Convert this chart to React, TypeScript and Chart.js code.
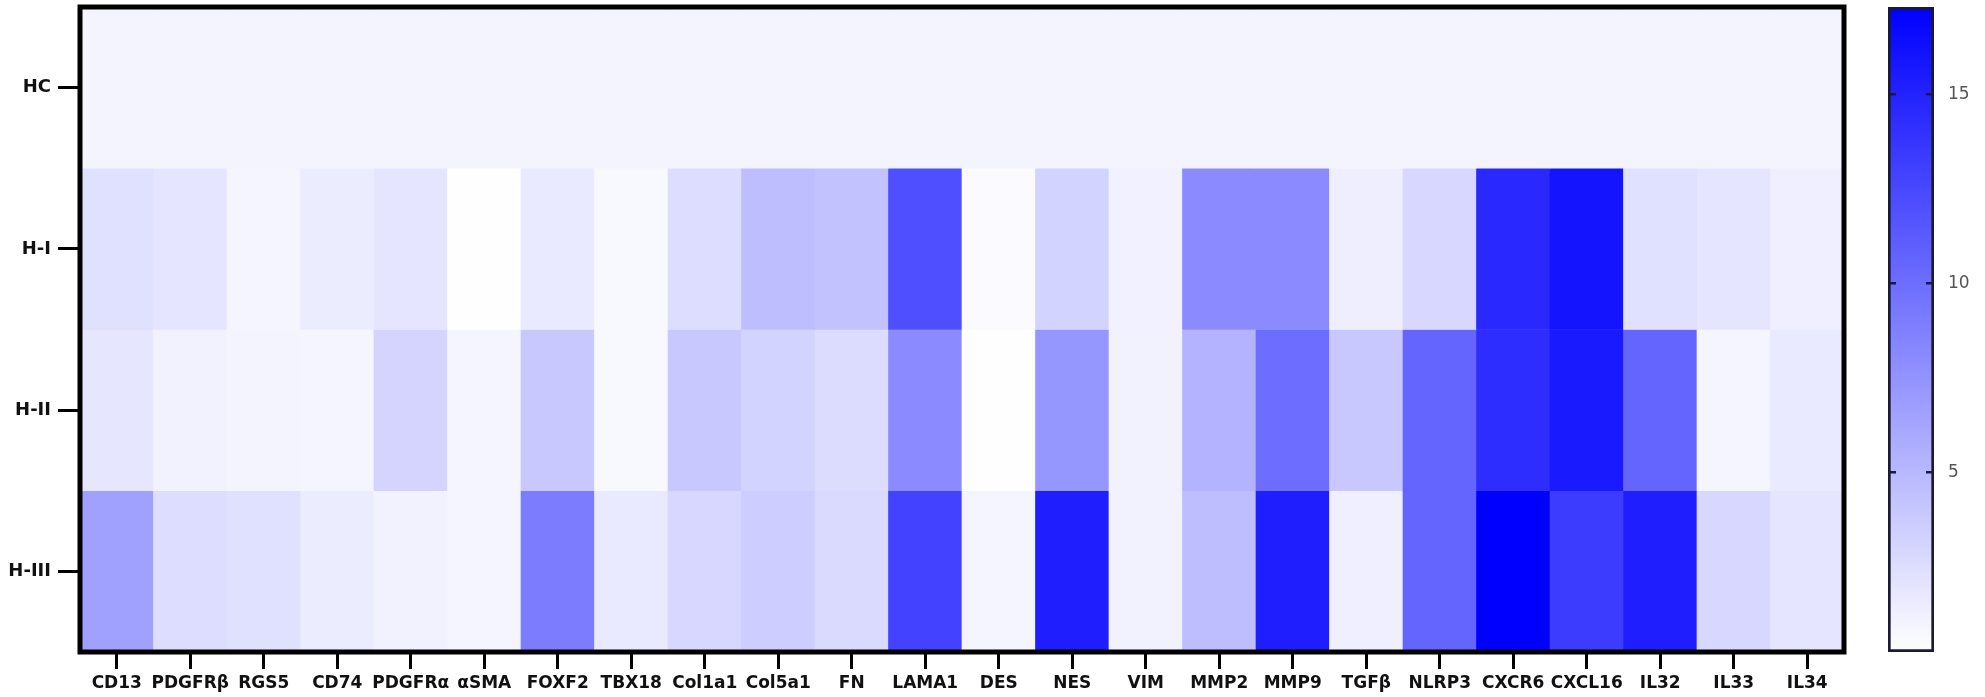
import React, { useEffect, useRef } from 'react';
import { Chart, registerables } from 'chart.js';

Chart.register(...registerables);

// ---------- data ----------
const genes = [
  'CD13', 'PDGFRβ', 'RGS5', 'CD74', 'PDGFRα', 'αSMA', 'FOXF2', 'TBX18',
  'Col1a1', 'Col5a1', 'FN', 'LAMA1', 'DES', 'NES', 'VIM', 'MMP2', 'MMP9',
  'TGFβ', 'NLRP3', 'CXCR6', 'CXCL16', 'IL32', 'IL33', 'IL34',
];
const groups = ['HC', 'H-I', 'H-II', 'H-III'];

const hcValues = [1, 1, 1, 1, 1, 1, 1, 1, 1, 1, 1, 1, 1, 1, 1, 1, 1, 1, 1, 1, 1, 1, 1, 1];
const h1Values = [2.3, 2.0, 0.9, 1.5, 2.0, 0.3, 1.7, 0.7, 2.5, 4.6, 4.3, 12.0, 0.6, 3.2, 1.2, 8.0, 8.0, 1.4, 2.9, 14.6, 16.0, 2.3, 2.0, 1.3];
const h2Values = [1.9, 1.1, 1.0, 0.9, 3.1, 0.9, 3.9, 0.7, 3.9, 3.2, 2.6, 8.0, 0.3, 7.3, 1.1, 5.3, 10.0, 3.9, 10.6, 14.3, 15.6, 10.6, 0.9, 1.7];
const h3Values = [6.6, 2.5, 2.3, 1.5, 1.1, 0.9, 9.0, 1.7, 2.9, 3.6, 2.7, 12.9, 0.9, 15.3, 1.1, 4.6, 15.3, 1.3, 10.6, 17.3, 13.3, 15.3, 2.9, 2.0];

const colorbarTicks = [5, 10, 15];
const scaleMin = 0.24;
const scaleMax = 17.31;

// ---------- helpers ----------
function colorFor(v: number): string {
  let f = (v - scaleMin) / (scaleMax - scaleMin);
  f = Math.max(0, Math.min(1, f));
  const c = Math.round(255 * (1 - f));
  return `rgb(${c},${c},255)`;
}

const FONT = '"DejaVu Sans", "Liberation Sans", sans-serif';

const framePlugin = {
  id: 'frame',
  afterDatasetsDraw(chart: any) {
    const { ctx, chartArea } = chart;
    ctx.save();
    ctx.strokeStyle = '#000';
    ctx.lineWidth = 5;
    ctx.strokeRect(chartArea.left, chartArea.top, chartArea.right - chartArea.left, chartArea.bottom - chartArea.top);
    ctx.restore();
  },
};

const colorbarTickPlugin = {
  id: 'cbticks',
  afterDatasetsDraw(chart: any) {
    const { ctx, chartArea } = chart;
    const y = chart.scales.y;
    ctx.save();
    ctx.strokeStyle = '#1a1a40';
    ctx.lineWidth = 2.5;
    colorbarTicks.forEach((t) => {
      const py = y.getPixelForValue(t);
      ctx.beginPath();
      ctx.moveTo(chartArea.left, py);
      ctx.lineTo(chartArea.left + 8, py);
      ctx.moveTo(chartArea.right - 8, py);
      ctx.lineTo(chartArea.right, py);
      ctx.stroke();
    });
    ctx.restore();
  },
};

export default function App() {
  const mainRef = useRef<HTMLCanvasElement>(null);
  const barRef = useRef<HTMLCanvasElement>(null);

  useEffect(() => {
    const rows = [hcValues, h1Values, h2Values, h3Values];
    const main = new Chart(mainRef.current as HTMLCanvasElement, {
      type: 'bar',
      data: {
        labels: genes,
        datasets: rows.map((vals, r) => ({
          label: groups[r],
          data: vals.map(() => [r, r + 1]),
          backgroundColor: vals.map(colorFor),
          borderWidth: 0,
          barPercentage: 1,
          categoryPercentage: 1,
          grouped: false,
        })) as any,
      },
      options: {
        animation: false,
        responsive: true,
        maintainAspectRatio: false,
        layout: { padding: { top: 7, right: 16, left: 0, bottom: 0 } },
        plugins: { legend: { display: false }, tooltip: { enabled: false } },
        scales: {
          x: {
            type: 'category',
            offset: true,
            grid: {
              offset: false,
              drawOnChartArea: false,
              drawTicks: true,
              tickLength: 17,
              lineWidth: 3,
              color: '#000',
            },
            border: { display: false },
            ticks: {
              autoSkip: false,
              maxRotation: 0,
              minRotation: 0,
              padding: 4,
              color: '#111',
              font: { family: FONT, size: 17, weight: 'bold' },
            },
            afterFit: (s: any) => {
              s.height = 45;
              s.paddingLeft = 0;
              s.paddingRight = 0;
            },
          },
          y: {
            type: 'linear',
            min: 0,
            max: 4,
            reverse: true,
            afterBuildTicks: (s: any) => {
              s.ticks = groups.map((_, i) => ({ value: i + 0.5 }));
            },
            ticks: {
              callback: (_v: any, i: number) => groups[i],
              padding: 7,
              color: '#111',
              font: { family: FONT, size: 18, weight: 'bold' },
            },
            grid: {
              drawOnChartArea: false,
              tickLength: 22,
              lineWidth: 3,
              color: '#000',
            },
            border: { display: false },
            afterFit: (s: any) => {
              s.width = 80;
              s.paddingTop = 0;
              s.paddingBottom = 0;
            },
          },
        },
      } as any,
      plugins: [framePlugin],
    });

    const bar = new Chart(barRef.current as HTMLCanvasElement, {
      type: 'bar',
      data: {
        labels: [''],
        datasets: [
          {
            data: [[scaleMin, scaleMax]] as any,
            backgroundColor: (ctx: any) => {
              const chart = ctx.chart;
              const area = chart.chartArea;
              if (!area) return 'rgb(0,0,255)';
              const ys = chart.scales.y;
              const g = chart.ctx.createLinearGradient(0, ys.getPixelForValue(scaleMin), 0, ys.getPixelForValue(scaleMax));
              g.addColorStop(0, colorFor(scaleMin));
              g.addColorStop(1, colorFor(scaleMax));
              return g;
            },
            borderColor: '#1a1a33',
            borderWidth: 3,
            borderSkipped: false,
            barPercentage: 1,
            categoryPercentage: 1,
          } as any,
        ],
      },
      options: {
        animation: false,
        responsive: true,
        maintainAspectRatio: false,
        layout: { padding: { top: 7, left: 18, right: 0, bottom: 45 } },
        plugins: { legend: { display: false }, tooltip: { enabled: false } },
        scales: {
          x: { display: false },
          y: {
            type: 'linear',
            position: 'right',
            min: scaleMin,
            max: scaleMax,
            afterBuildTicks: (s: any) => {
              s.ticks = colorbarTicks.map((v) => ({ value: v }));
            },
            grid: { display: false, drawTicks: false },
            border: { display: false },
            ticks: {
              padding: 14,
              color: '#555',
              font: { family: FONT, size: 17 },
            },
            afterFit: (s: any) => {
              s.width = 51;
              s.paddingTop = 0;
              s.paddingBottom = 0;
            },
          },
        },
      } as any,
      plugins: [colorbarTickPlugin],
    });

    return () => {
      main.destroy();
      bar.destroy();
    };
  }, []);

  return (
    <div style={{ position: 'absolute', left: 0, top: 0, width: 1985, height: 697, background: '#fff' }}>
      <div style={{ position: 'absolute', left: 0, top: 0, width: 1860, height: 697 }}>
        <canvas ref={mainRef} />
      </div>
      <div style={{ position: 'absolute', left: 1870, top: 0, width: 115, height: 697 }}>
        <canvas ref={barRef} />
      </div>
    </div>
  );
}
